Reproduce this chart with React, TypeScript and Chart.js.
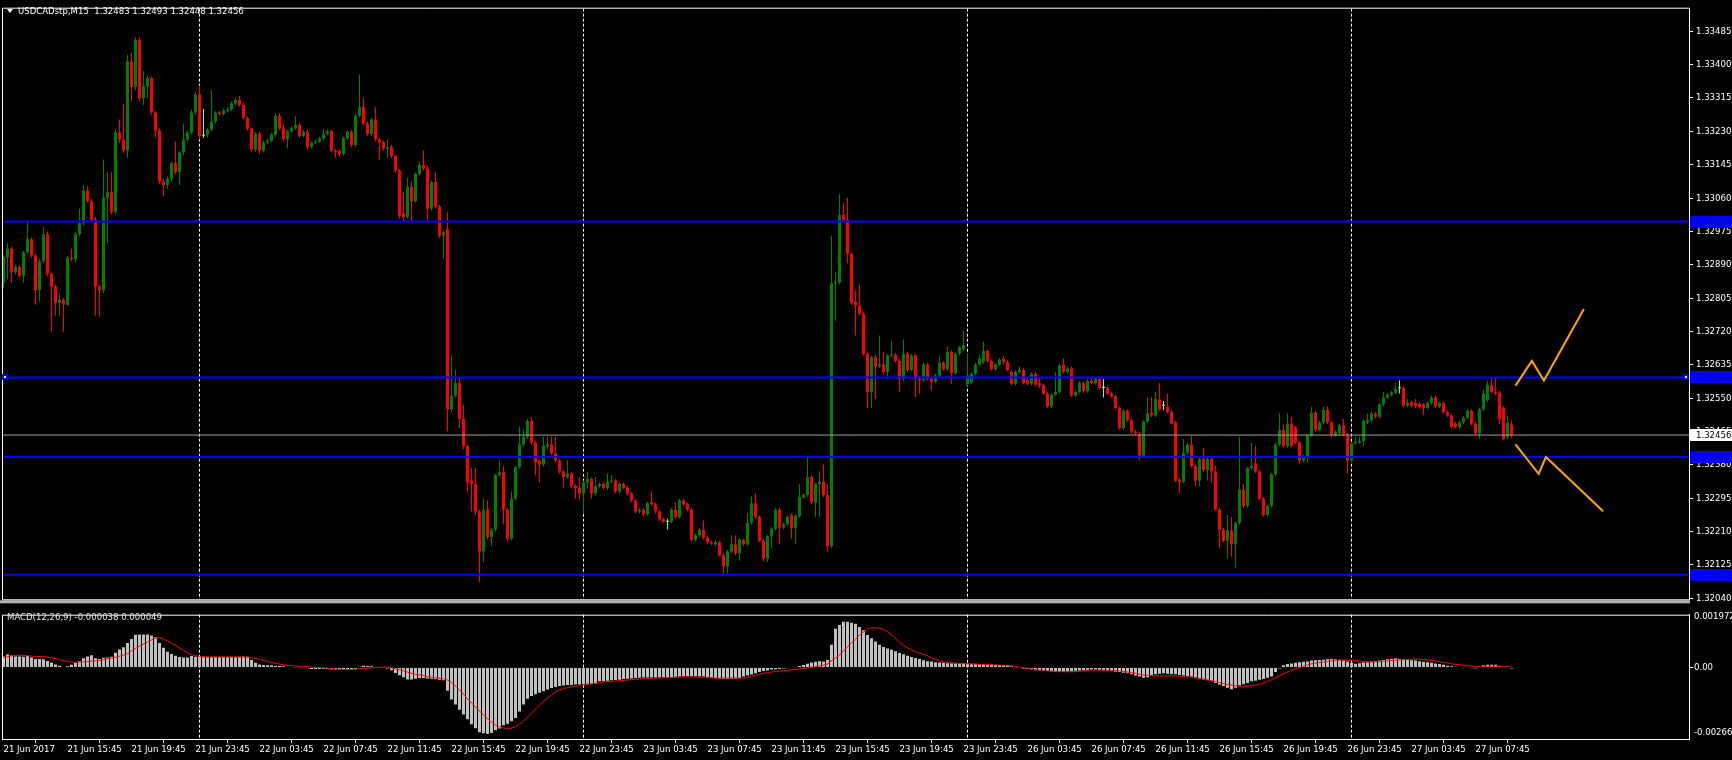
import React, { useEffect, useRef } from "react";
import { Chart, registerables } from "chart.js";

Chart.register(...registerables);

// ---------------- data ----------------
const SYMBOL = "USDCADstp,M15";
const PRICE_BASE = 1.3; // prices stored as points above 1.30000
const POINT = 0.00001;

const OPEN = [
  2844,2908,2931,2871,2885,2862,2922,2955,2913,2825,
  2899,2968,2867,2834,2793,2800,2788,2908,2904,2968,
  2996,3079,3052,3005,2834,2825,3061,3075,3024,3227,
  3209,3181,3408,3343,3463,3315,3345,3366,3278,3232,
  3102,3093,3109,3149,3126,3176,3209,3227,3278,3324,
  3219,3221,3234,3255,3278,3274,3283,3286,3301,3310,
  3297,3264,3237,3184,3224,3181,3202,3206,3221,3269,
  3237,3209,3230,3238,3246,3218,3229,3190,3201,3204,
  3212,3224,3230,3181,3180,3172,3213,3229,3195,3269,
  3292,3250,3223,3260,3209,3202,3186,3190,3167,3130,
  3021,3012,3089,3052,3121,3144,3135,3033,3101,3038,
  2964,2980,2522,2557,2589,2497,2428,2340,2331,2261,
  2159,2266,2196,2215,2354,2361,2266,2192,2294,2374,
  2432,2451,2492,2437,2390,2381,2428,2432,2409,2391,
  2363,2349,2358,2326,2321,2307,2335,2344,2307,2326,
  2331,2321,2337,2340,2312,2331,2321,2307,2289,2261,
  2266,2254,2285,2280,2261,2241,2235,2236,2266,2247,
  2289,2280,2266,2189,2201,2215,2195,2183,2177,2183,
  2150,2122,2159,2178,2155,2189,2178,2233,2282,2247,
  2187,2141,2198,2217,2266,2220,2229,2252,2220,2250,
  2298,2303,2349,2284,2331,2337,2303,2173,2842,2845,
  3017,3005,2918,2795,2786,2765,2663,2566,2654,2631,
  2636,2617,2659,2661,2645,2599,2663,2622,2659,2601,
  2596,2636,2599,2592,2608,2640,2624,2668,2614,2663,
  2675,2585,2590,2612,2636,2642,2670,2645,2624,2636,
  2650,2642,2617,2587,2617,2622,2596,2587,2612,2589,
  2583,2562,2529,2559,2566,2636,2617,2626,2557,2566,
  2589,2568,2594,2589,2599,2576,2577,2562,2555,2525,
  2474,2518,2494,2465,2460,2404,2490,2513,2506,2546,
  2531,2529,2515,2488,2343,2337,2411,2432,2377,2340,
  2395,2367,2395,2363,2266,2215,2187,2213,2178,2232,
  2317,2275,2372,2384,2363,2294,2252,2275,2356,2432,
  2469,2428,2485,2476,2437,2391,2402,2455,2513,2469,
  2488,2520,2488,2455,2460,2481,2457,2391,2435,2437,
  2441,2488,2494,2511,2503,2534,2552,2559,2564,2575,
  2576,2531,2540,2538,2536,2534,2525,2538,2552,2529,
  2538,2515,2506,2485,2476,2488,2500,2518,2485,2460,
  2522,2545,2583,2566,2564,2525,2451,2483,
];

const HIGH = [
  2915,2945,2935,2890,2888,2925,3001,2960,2918,2905,
  2987,2975,2870,2840,2816,2805,2912,2931,2975,3033,
  3093,3090,3058,3012,2840,3158,3126,3126,3235,3260,
  3301,3426,3430,3470,3470,3384,3372,3370,3282,3238,
  3108,3115,3152,3204,3180,3250,3232,3285,3330,3347,
  3287,3238,3335,3282,3282,3288,3292,3306,3316,3320,
  3303,3268,3240,3228,3228,3206,3212,3226,3275,3276,
  3250,3234,3242,3269,3252,3234,3234,3205,3209,3216,
  3237,3235,3234,3185,3184,3217,3233,3234,3274,3375,
  3315,3256,3264,3292,3213,3206,3209,3195,3170,3134,
  3075,3112,3102,3125,3153,3181,3142,3105,3126,3042,
  2978,3024,2659,2622,2603,2534,2432,2372,2372,2266,
  2294,2289,2220,2358,2391,2377,2270,2312,2378,2478,
  2469,2497,2502,2442,2395,2451,2451,2451,2451,2395,
  2367,2391,2362,2331,2349,2340,2363,2348,2349,2335,
  2336,2358,2354,2344,2335,2335,2326,2311,2293,2270,
  2270,2286,2312,2284,2265,2245,2243,2270,2284,2294,
  2294,2284,2270,2205,2219,2238,2199,2187,2187,2187,
  2155,2163,2201,2201,2193,2192,2257,2300,2307,2251,
  2192,2202,2221,2270,2270,2233,2251,2256,2254,2331,
  2307,2400,2353,2335,2363,2381,2331,2964,2871,3070,
  3047,3061,2922,2825,2839,2770,2667,2658,2660,2710,
  2668,2663,2696,2665,2650,2700,2668,2663,2663,2606,
  2640,2640,2603,2612,2659,2644,2682,2672,2667,2683,
  2722,2663,2616,2640,2661,2694,2674,2649,2640,2652,
  2659,2646,2621,2621,2631,2626,2600,2616,2616,2603,
  2587,2566,2563,2617,2637,2651,2630,2630,2570,2593,
  2593,2598,2601,2603,2603,2599,2581,2566,2559,2529,
  2522,2522,2498,2469,2464,2494,2552,2552,2566,2589,
  2543,2562,2519,2492,2347,2446,2436,2455,2381,2399,
  2423,2399,2399,2377,2270,2219,2252,2247,2236,2451,
  2331,2376,2437,2428,2367,2298,2279,2360,2436,2511,
  2483,2511,2502,2480,2441,2406,2459,2529,2517,2492,
  2529,2529,2492,2469,2485,2497,2461,2439,2451,2451,
  2496,2511,2515,2515,2538,2566,2563,2568,2589,2596,
  2580,2548,2544,2548,2540,2538,2542,2556,2556,2542,
  2542,2519,2510,2489,2492,2504,2522,2522,2489,2526,
  2571,2594,2599,2603,2568,2529,2506,2493,
];

const LOW = [
  2830,2853,2844,2865,2858,2844,2918,2908,2788,2797,
  2895,2860,2719,2760,2760,2719,2785,2898,2896,2962,
  2990,3048,2998,2760,2756,2818,2945,3018,3020,3200,
  3175,3163,3306,3335,3306,3297,3315,3272,3213,3095,
  3065,3084,3102,3120,3093,3170,3204,3222,3272,3209,
  3213,3215,3230,3250,3270,3270,3278,3282,3297,3293,
  3260,3232,3178,3178,3172,3176,3198,3202,3216,3232,
  3204,3186,3226,3234,3213,3214,3185,3186,3198,3200,
  3208,3220,3176,3163,3165,3168,3208,3190,3190,3265,
  3245,3218,3218,3204,3158,3180,3163,3162,3125,3008,
  3001,3008,3001,3048,3117,3130,3005,3028,3033,2958,
  2904,2466,2515,2552,2474,2420,2312,2261,2252,2081,
  2132,2190,2173,2210,2350,2229,2187,2188,2290,2370,
  2428,2447,2432,2354,2335,2376,2420,2405,2386,2358,
  2321,2344,2321,2294,2289,2257,2320,2294,2302,2321,
  2316,2316,2333,2307,2308,2317,2302,2284,2256,2256,
  2250,2250,2276,2256,2237,2231,2215,2232,2243,2243,
  2276,2262,2185,2184,2197,2190,2178,2175,2172,2146,
  2099,2104,2155,2150,2136,2174,2174,2229,2243,2183,
  2134,2132,2169,2213,2178,2216,2225,2192,2178,2246,
  2294,2299,2280,2247,2247,2298,2159,2168,2747,2840,
  3000,2894,2788,2710,2760,2658,2525,2525,2548,2627,
  2612,2599,2654,2641,2566,2595,2618,2618,2552,2562,
  2592,2595,2571,2588,2604,2620,2620,2587,2610,2659,
  2670,2580,2586,2608,2632,2638,2641,2620,2620,2632,
  2638,2618,2583,2583,2613,2585,2583,2582,2580,2576,
  2558,2525,2525,2555,2562,2613,2612,2553,2553,2562,
  2564,2564,2585,2585,2572,2552,2558,2551,2520,2469,
  2469,2490,2460,2456,2391,2400,2486,2502,2502,2518,
  2520,2511,2483,2336,2307,2333,2407,2373,2326,2326,
  2363,2340,2335,2262,2169,2183,2141,2146,2118,2228,
  2271,2271,2368,2359,2290,2248,2248,2271,2352,2428,
  2424,2424,2424,2433,2381,2387,2386,2451,2465,2465,
  2484,2484,2451,2451,2456,2453,2358,2387,2431,2433,
  2428,2484,2490,2499,2499,2530,2548,2555,2560,2562,
  2527,2527,2527,2525,2523,2506,2521,2534,2525,2525,
  2511,2502,2474,2472,2472,2484,2496,2481,2456,2446,
  2518,2540,2562,2558,2483,2442,2446,2448,
];

const CLOSE = [
  2908,2931,2871,2885,2862,2922,2955,2913,2825,2899,
  2968,2867,2834,2793,2800,2788,2908,2904,2968,2996,
  3079,3052,3005,2834,2825,3061,3075,3024,3227,3209,
  3181,3408,3343,3463,3315,3345,3366,3278,3232,3102,
  3093,3109,3149,3126,3176,3209,3227,3278,3324,3218,
  3219,3234,3255,3278,3274,3283,3286,3301,3310,3297,
  3264,3237,3184,3224,3181,3202,3206,3221,3269,3237,
  3209,3230,3238,3246,3218,3229,3190,3201,3204,3212,
  3224,3230,3181,3177,3172,3213,3229,3195,3269,3292,
  3250,3223,3260,3209,3202,3186,3190,3167,3130,3015,
  3012,3089,3052,3121,3144,3135,3033,3101,3038,2964,
  2973,2522,2557,2589,2497,2428,2335,2331,2261,2159,
  2266,2196,2215,2354,2361,2266,2192,2294,2374,2432,
  2451,2492,2437,2386,2381,2428,2432,2409,2391,2363,
  2349,2358,2326,2321,2307,2335,2344,2307,2326,2331,
  2321,2337,2340,2312,2331,2321,2307,2289,2261,2266,
  2254,2282,2280,2261,2241,2235,2235,2266,2247,2289,
  2280,2266,2189,2201,2215,2195,2183,2180,2183,2150,
  2122,2159,2178,2155,2189,2178,2233,2282,2247,2187,
  2141,2198,2217,2266,2220,2229,2247,2220,2250,2298,
  2303,2349,2284,2331,2337,2303,2173,2842,2845,3017,
  3005,2918,2793,2786,2765,2663,2566,2654,2631,2636,
  2617,2659,2661,2645,2599,2663,2622,2659,2599,2596,
  2636,2599,2592,2608,2640,2624,2668,2614,2663,2679,
  2685,2608,2612,2636,2651,2670,2645,2624,2636,2648,
  2642,2622,2587,2617,2622,2589,2587,2612,2585,2583,
  2562,2529,2559,2566,2633,2617,2626,2557,2566,2589,
  2568,2594,2589,2599,2576,2576,2562,2555,2525,2474,
  2518,2494,2465,2460,2404,2490,2511,2506,2548,2522,
  2531,2515,2485,2340,2337,2411,2432,2377,2340,2395,
  2367,2395,2363,2266,2215,2187,2213,2178,2232,2317,
  2275,2372,2377,2363,2294,2252,2275,2356,2432,2469,
  2428,2485,2428,2437,2391,2402,2455,2513,2469,2488,
  2520,2488,2455,2465,2481,2457,2391,2435,2439,2441,
  2492,2494,2511,2503,2534,2552,2559,2564,2574,2575,
  2531,2538,2531,2531,2527,2525,2538,2552,2529,2538,
  2515,2506,2478,2476,2488,2500,2518,2485,2460,2522,
  2562,2585,2566,2562,2497,2446,2488,2456,
];

const MACD_UNIT = 0.000001;
const MACD_MAIN = [
  416,487,451,416,416,404,440,380,321,321,
  309,249,190,119,71,24,48,107,178,238,
  345,416,463,345,321,368,380,404,558,677,
  760,915,1069,1224,1236,1236,1236,1200,1129,915,
  737,594,511,440,392,380,380,428,404,404,
  404,404,404,404,404,404,404,404,404,404,
  416,404,285,178,119,95,83,83,59,59,
  48,24,24,12,12,0,-24,-48,-48,-48,
  -48,-59,-71,-71,-71,-71,-59,-59,-48,36,
  71,59,48,24,0,0,-36,-95,-202,-285,
  -356,-440,-440,-416,-392,-392,-404,-416,-428,-451,
  -475,-867,-1188,-1378,-1568,-1746,-1925,-2115,-2257,-2412,
  -2447,-2471,-2435,-2340,-2269,-2150,-2091,-1996,-1877,-1639,
  -1378,-1164,-1057,-998,-939,-879,-820,-760,-725,-689,
  -665,-653,-653,-630,-630,-618,-606,-606,-594,-511,
  -499,-487,-475,-463,-451,-428,-416,-404,-392,-380,
  -368,-368,-368,-368,-368,-356,-356,-356,-345,-333,
  -321,-309,-309,-321,-333,-333,-356,-380,-392,-404,
  -416,-428,-416,-404,-392,-333,-297,-261,-214,-166,
  -131,-107,-71,-59,-48,-36,-24,0,24,59,
  95,143,190,214,238,226,285,855,1449,1592,
  1711,1711,1675,1639,1509,1390,1212,1093,974,855,
  772,713,665,606,546,499,440,392,356,321,
  273,238,226,202,190,178,166,166,166,166,
  166,154,143,143,131,131,119,119,107,95,
  95,83,48,12,-12,-36,-48,-71,-95,-107,
  -119,-131,-143,-154,-154,-154,-154,-143,-119,-107,
  -95,-83,-71,-71,-83,-95,-107,-131,-154,-166,
  -190,-214,-249,-297,-333,-380,-356,-285,-249,-226,
  -214,-226,-238,-249,-273,-297,-309,-333,-368,-404,
  -440,-475,-511,-570,-630,-689,-748,-808,-748,-665,
  -618,-570,-511,-487,-451,-428,-380,-333,-166,-36,
  83,131,154,178,202,214,226,261,273,285,
  297,309,321,309,285,261,226,178,143,166,
  190,202,226,238,261,285,309,333,345,333,
  321,297,273,261,238,214,202,178,154,131,
  107,71,48,36,24,12,0,-24,-36,24,
  83,107,107,107,60,20,0,-38,
];

const MACD_SIGNAL = [
  380,404,440,451,463,451,440,428,416,416,
  404,392,368,333,297,261,226,202,202,202,
  214,226,238,249,261,297,333,356,380,428,
  463,523,618,713,796,879,950,1034,1093,1117,
  1069,998,915,832,737,642,558,475,440,416,
  404,392,392,392,392,392,392,392,392,392,
  392,392,368,345,309,273,226,190,154,131,
  107,83,71,59,48,48,36,24,12,0,
  -12,-24,-36,-48,-59,-71,-71,-71,-59,-48,
  -36,-24,-12,0,12,12,12,-12,-48,-83,
  -119,-166,-214,-249,-273,-297,-333,-356,-380,-392,
  -416,-463,-546,-689,-832,-986,-1164,-1319,-1461,-1616,
  -1770,-1901,-2031,-2138,-2210,-2257,-2269,-2257,-2210,-2115,
  -1996,-1853,-1699,-1544,-1402,-1259,-1140,-1022,-903,-832,
  -784,-748,-725,-701,-677,-653,-630,-606,-582,-546,
  -535,-523,-511,-499,-487,-475,-463,-451,-440,-428,
  -416,-404,-404,-392,-392,-380,-380,-368,-368,-356,
  -345,-345,-345,-345,-356,-356,-368,-380,-392,-392,
  -392,-392,-392,-392,-392,-392,-368,-333,-285,-249,
  -214,-190,-166,-143,-131,-119,-107,-83,-59,-48,
  -36,-12,12,36,59,95,131,261,356,463,
  618,772,915,1057,1212,1331,1437,1485,1485,1473,
  1426,1331,1212,1093,939,832,737,665,594,546,
  499,440,356,309,261,214,190,178,166,154,
  143,143,131,131,119,119,107,107,95,95,
  83,83,71,48,24,0,-24,-48,-71,-83,
  -95,-119,-131,-143,-154,-154,-154,-154,-154,-143,
  -119,-107,-95,-95,-95,-95,-95,-107,-107,-119,
  -143,-166,-190,-214,-249,-273,-285,-297,-309,-309,
  -309,-309,-309,-309,-321,-333,-345,-356,-380,-404,
  -428,-451,-487,-523,-558,-594,-630,-653,-677,-689,
  -701,-689,-677,-653,-618,-570,-523,-451,-380,-309,
  -226,-166,-95,-48,0,48,95,143,166,190,
  202,226,249,273,285,285,273,261,249,238,
  226,214,202,214,226,238,249,261,273,285,
  297,309,309,321,309,297,285,273,249,226,
  190,166,143,119,107,83,71,59,48,48,
  48,48,48,48,48,49,50,49,
];

const PRICE_TICKS = [
  1.3204, 1.32125, 1.3221, 1.32295, 1.3238, 1.32465, 1.3255, 1.32635, 1.3272,
  1.32805, 1.3289, 1.32975, 1.3306, 1.33145, 1.3323, 1.33315, 1.334, 1.33485,
];
const TIME_TICK_INDEX = [
  0, 16, 32, 48, 64, 80, 96, 112, 128, 144, 160, 176, 192, 208, 224, 240, 256,
  272, 288, 304, 320, 336, 352, 368,
];
const TIME_LABELS = [
  "21 Jun 2017", "21 Jun 15:45", "21 Jun 19:45", "21 Jun 23:45", "22 Jun 03:45",
  "22 Jun 07:45", "22 Jun 11:45", "22 Jun 15:45", "22 Jun 19:45", "22 Jun 23:45",
  "23 Jun 03:45", "23 Jun 07:45", "23 Jun 11:45", "23 Jun 15:45", "23 Jun 19:45",
  "23 Jun 23:45", "26 Jun 03:45", "26 Jun 07:45", "26 Jun 11:45", "26 Jun 15:45",
  "26 Jun 19:45", "26 Jun 23:45", "27 Jun 03:45", "27 Jun 07:45",
];
const DAY_SEPARATORS = [49, 145, 241, 337];
const LEVELS = [1.33, 1.32603, 1.324, 1.321];
const LAST_PRICE = 1.32456;
const UP_ARROW_X = [378, 382.1, 385.1, 395.1];
const UP_ARROW_Y = [1.32582, 1.32645, 1.32595, 1.32777];
const DOWN_ARROW_X = [378, 383.8, 385.6, 399.9];
const DOWN_ARROW_Y = [1.32432, 1.32357, 1.324, 1.32262];

// ---------------- layout / style ----------------
const W = 1732;
const MAIN_H = 608;
const MACD_H = 152;
const PLOT_LEFT = 2;
const PLOT_RIGHT = 1689;
const AXIS_W = W - PLOT_RIGHT;
const BAR_STEP = 4;
const X_MIN = -0.375;
const X_MAX = X_MIN + (PLOT_RIGHT - PLOT_LEFT) / BAR_STEP;
const PRICE_MIN = 1.320375;
const PRICE_MAX = 1.335425;
const MACD_MIN = -0.002662;
const MACD_MAX = 0.001972;

const BULL = "#008000";
const BEAR = "#ff0000";
const DOJI = "#90ee90";
const LEVEL_COLOR = "#0000ff";
const FONT_FAMILY = "'DejaVu Sans Condensed', 'Liberation Sans', Arial, sans-serif";
const FONT_SIZE = 9.5;
const FONT = FONT_SIZE + "px " + FONT_FAMILY;

const N = CLOSE.length;
const IDX = CLOSE.map((_, i) => i);
const price = (v: number) => PRICE_BASE + v * POINT;
const candleColor = (i: number) =>
  CLOSE[i] > OPEN[i] ? BULL : CLOSE[i] < OPEN[i] ? BEAR : DOJI;

function drawSeparators(chart: any) {
  const { ctx, chartArea: a, scales } = chart;
  ctx.save();
  ctx.strokeStyle = "#ffffff";
  ctx.lineWidth = 1;
  ctx.setLineDash([3, 2]);
  DAY_SEPARATORS.forEach((i) => {
    const x = Math.floor(scales.x.getPixelForValue(i)) + 0.5;
    ctx.beginPath();
    ctx.moveTo(x, a.top);
    ctx.lineTo(x, a.bottom);
    ctx.stroke();
  });
  ctx.restore();
}

const mainDecor = {
  id: "mainDecor",
  beforeDatasetsDraw(chart: any) {
    drawSeparators(chart);
  },
  afterDraw(chart: any) {
    const { ctx, chartArea: a, scales } = chart;
    ctx.save();
    // pane separator band
    ctx.fillStyle = "#b4b4b4";
    ctx.fillRect(0, a.bottom + 1, a.right + 1, 3);
    ctx.strokeStyle = "#ffffff";
    ctx.lineWidth = 1;
    ctx.beginPath();
    ctx.moveTo(a.left + 0.5, a.bottom + 0.5);
    ctx.lineTo(a.left + 0.5, a.top - 0.5);
    ctx.lineTo(a.right + 0.5, a.top - 0.5);
    ctx.lineTo(a.right + 0.5, a.bottom + 0.5);
    ctx.lineTo(a.left + 0.5, a.bottom + 0.5);
    ctx.stroke();

    // title
    ctx.fillStyle = "#ffffff";
    ctx.beginPath();
    ctx.moveTo(7, 9);
    ctx.lineTo(13, 9);
    ctx.lineTo(10, 13);
    ctx.closePath();
    ctx.fill();
    ctx.font = FONT;
    ctx.textBaseline = "middle";
    ctx.textAlign = "left";
    const last = N - 1;
    const title =
      SYMBOL + "  " +
      [OPEN[last], HIGH[last], LOW[last], CLOSE[last]].map((v) => price(v).toFixed(5)).join(" ");
    ctx.fillText(title, 18, 11.5);

    // level tags on the price axis
    LEVELS.forEach((lv) => {
      const y = Math.round(scales.y.getPixelForValue(lv));
      ctx.fillStyle = LEVEL_COLOR;
      ctx.fillRect(a.right + 1, y - 6, AXIS_W - 1, 12);
      ctx.fillStyle = "#1010a0";
      ctx.fillText(lv.toFixed(5), a.right + 7, y + 0.5);
    });
    const yl = Math.round(scales.y.getPixelForValue(LAST_PRICE));
    ctx.fillStyle = "#ffffff";
    ctx.fillRect(a.right + 1, yl - 6, AXIS_W - 1, 12);
    ctx.fillStyle = "#000000";
    ctx.fillText(LAST_PRICE.toFixed(5), a.right + 7, yl + 0.5);

    // anchors on the 1.32603 line
    const ya = Math.round(scales.y.getPixelForValue(LEVELS[1]));
    [5, a.right - 3].forEach((x) => {
      ctx.fillStyle = LEVEL_COLOR;
      ctx.fillRect(x - 3, ya - 3, 6, 6);
      ctx.fillStyle = "#ffffff";
      ctx.fillRect(x - 1, ya - 1, 2, 2);
    });
    ctx.restore();
  },
};

const macdDecor = {
  id: "macdDecor",
  beforeDatasetsDraw(chart: any) {
    drawSeparators(chart);
  },
  afterDraw(chart: any) {
    const { ctx, chartArea: a } = chart;
    ctx.save();
    ctx.strokeStyle = "#ffffff";
    ctx.lineWidth = 1;
    ctx.beginPath();
    ctx.moveTo(a.left + 0.5, a.bottom);
    ctx.lineTo(a.left + 0.5, a.top + 0.5);
    ctx.lineTo(a.right + 0.5, a.top + 0.5);
    ctx.lineTo(a.right + 0.5, a.bottom);
    ctx.stroke();
    ctx.font = FONT;
    ctx.textBaseline = "middle";
    ctx.textAlign = "left";
    ctx.fillStyle = "#e6e6e6";
    const last = N - 1;
    ctx.fillText(
      "MACD(12,26,9) " +
        (MACD_MAIN[last] * MACD_UNIT).toFixed(6) + " " +
        (MACD_SIGNAL[last] * MACD_UNIT).toFixed(6),
      7, 9.5
    );
    ctx.fillStyle = "#ffffff";
    ctx.fillText(MACD_MAX.toFixed(6), a.right + 5, 8.5);
    ctx.fillText(MACD_MIN.toFixed(6), a.right + 5, 124.5);
    ctx.restore();
  },
};

const axisFont = { family: FONT_FAMILY, size: FONT_SIZE };

function mainConfig(): any {
  const datasets: any[] = [
    {
      type: "bar",
      data: IDX.map((i) => ({ x: i, y: [price(LOW[i]), price(HIGH[i])] })),
      backgroundColor: IDX.map(candleColor),
      barThickness: 1,
      grouped: false,
      borderWidth: 0,
      inflateAmount: 0,
      order: 4,
    },
    {
      type: "bar",
      data: IDX.map((i) => ({ x: i, y: [price(OPEN[i]), price(CLOSE[i])] })),
      backgroundColor: IDX.map(candleColor),
      barThickness: 3,
      minBarLength: 1,
      grouped: false,
      borderWidth: 0,
      inflateAmount: 0,
      order: 3,
    },
    ...LEVELS.map((lv) => ({
      type: "line",
      data: [{ x: X_MIN, y: lv }, { x: X_MAX, y: lv }],
      borderColor: LEVEL_COLOR,
      borderWidth: 2,
      pointRadius: 0,
      order: 2,
    })),
    {
      type: "line",
      data: [{ x: X_MIN, y: LAST_PRICE }, { x: X_MAX, y: LAST_PRICE }],
      borderColor: "#a0a0a0",
      borderWidth: 1,
      pointRadius: 0,
      order: 2,
    },
    {
      type: "line",
      data: UP_ARROW_X.map((x, k) => ({ x, y: UP_ARROW_Y[k] })),
      borderColor: "#ffa500",
      borderWidth: 2,
      pointRadius: 0,
      order: 1,
    },
    {
      type: "line",
      data: DOWN_ARROW_X.map((x, k) => ({ x, y: DOWN_ARROW_Y[k] })),
      borderColor: "#ffa500",
      borderWidth: 2,
      pointRadius: 0,
      order: 1,
    },
  ];
  return {
    type: "bar",
    data: { datasets },
    options: {
      animation: false,
      responsive: false,
      devicePixelRatio: 1,
      events: [],
      layout: { padding: { left: PLOT_LEFT, top: 3, right: 0, bottom: 3 } },
      plugins: { legend: { display: false }, tooltip: { enabled: false } },
      scales: {
        x: { type: "linear", min: X_MIN, max: X_MAX, offset: false, display: false },
        y: {
          type: "linear",
          position: "right",
          min: PRICE_MIN,
          max: PRICE_MAX,
          afterFit: (s: any) => { s.width = AXIS_W; },
          afterBuildTicks: (s: any) => { s.ticks = PRICE_TICKS.map((v) => ({ value: v })); },
          ticks: {
            color: "#ffffff",
            font: axisFont,
            padding: 3,
            autoSkip: false,
            callback: (v: any) => Number(v).toFixed(5),
          },
          grid: { drawOnChartArea: false, drawTicks: true, tickLength: 4, color: "#ffffff" },
          border: { display: true, color: "#ffffff" },
        },
      },
    },
    plugins: [mainDecor],
  };
}

function macdConfig(): any {
  return {
    type: "bar",
    data: {
      datasets: [
        {
          type: "bar",
          data: IDX.map((i) => ({ x: i, y: MACD_MAIN[i] * MACD_UNIT })),
          backgroundColor: "#c0c0c0",
          barThickness: 3,
          grouped: false,
          borderWidth: 0,
          inflateAmount: 0,
          order: 2,
        },
        {
          type: "line",
          data: IDX.map((i) => ({ x: i, y: MACD_SIGNAL[i] * MACD_UNIT })),
          borderColor: "#ff0000",
          borderWidth: 1,
          pointRadius: 0,
          order: 1,
        },
      ],
    },
    options: {
      animation: false,
      responsive: false,
      devicePixelRatio: 1,
      events: [],
      layout: { padding: { left: PLOT_LEFT, top: 1, right: 0, bottom: 0 } },
      plugins: { legend: { display: false }, tooltip: { enabled: false } },
      scales: {
        x: {
          type: "linear",
          position: "bottom",
          min: X_MIN,
          max: X_MAX,
          offset: false,
          afterFit: (s: any) => { s.height = 21; },
          afterBuildTicks: (s: any) => { s.ticks = TIME_TICK_INDEX.map((v) => ({ value: v })); },
          ticks: {
            color: "#ffffff",
            font: axisFont,
            align: "start",
            autoSkip: false,
            maxRotation: 0,
            minRotation: 0,
            padding: 1,
            callback: (_v: any, k: number) => TIME_LABELS[k],
          },
          grid: { drawOnChartArea: false, drawTicks: true, tickLength: 4, color: "#ffffff" },
          border: { display: true, color: "#ffffff" },
        },
        y: {
          type: "linear",
          position: "right",
          min: MACD_MIN,
          max: MACD_MAX,
          afterFit: (s: any) => { s.width = AXIS_W; },
          afterBuildTicks: (s: any) => { s.ticks = [{ value: 0 }]; },
          ticks: {
            color: "#ffffff",
            font: axisFont,
            padding: 1,
            autoSkip: false,
            callback: () => "0.00",
          },
          grid: { drawOnChartArea: false, drawTicks: true, tickLength: 4, color: "#ffffff" },
          border: { display: true, color: "#ffffff" },
        },
      },
    },
    plugins: [macdDecor],
  };
}

export default function App() {
  const mainRef = useRef<HTMLCanvasElement>(null);
  const macdRef = useRef<HTMLCanvasElement>(null);

  useEffect(() => {
    const main = new Chart(mainRef.current as HTMLCanvasElement, mainConfig());
    const macd = new Chart(macdRef.current as HTMLCanvasElement, macdConfig());
    return () => {
      main.destroy();
      macd.destroy();
    };
  }, []);

  return (
    <div
      style={{
        position: "fixed",
        left: 0,
        top: 0,
        width: W,
        height: MAIN_H + MACD_H,
        background: "#000000",
        overflow: "hidden",
      }}
    >
      <canvas
        ref={mainRef}
        width={W}
        height={MAIN_H}
        style={{ position: "absolute", left: 0, top: 0, width: W, height: MAIN_H }}
      />
      <canvas
        ref={macdRef}
        width={W}
        height={MACD_H}
        style={{ position: "absolute", left: 0, top: MAIN_H, width: W, height: MACD_H }}
      />
    </div>
  );
}
